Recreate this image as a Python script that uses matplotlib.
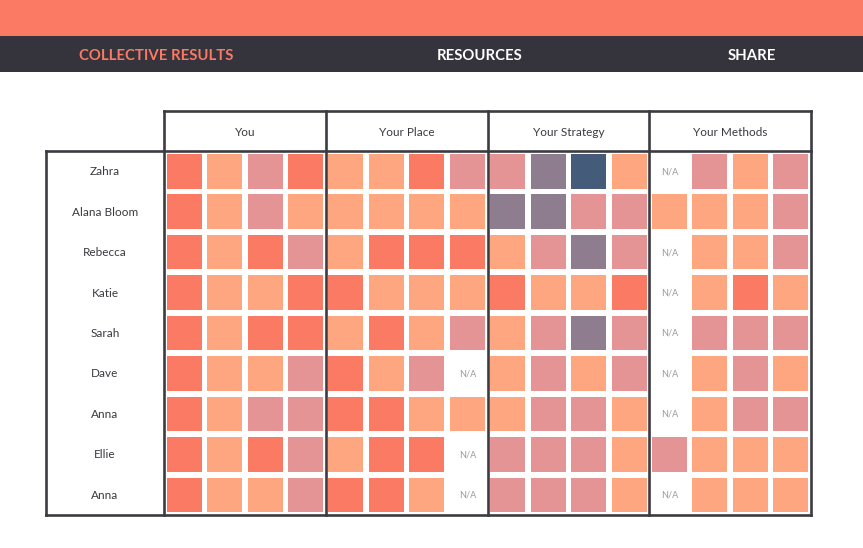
import matplotlib.pyplot as plt
import matplotlib.patches as mpatches

# ── data ─────────────────────────────────────────────────────────────────
NAV_ITEMS = ['COLLECTIVE RESULTS', 'RESOURCES', 'SHARE']
GROUPS = ['You', 'Your Place', 'Your Strategy', 'Your Methods']
NAMES = ['Zahra', 'Alana Bloom', 'Rebecca', 'Katie', 'Sarah',
         'Dave', 'Anna', 'Ellie', 'Anna']

# level per cell: 0 = N/A, 1..5 = answer category
YOU = [[1, 2, 3, 1], [1, 2, 3, 2], [1, 2, 1, 3], [1, 2, 2, 1], [1, 2, 1, 1],
       [1, 2, 2, 3], [1, 2, 3, 3], [1, 2, 1, 3], [1, 2, 2, 3]]
PLACE = [[2, 2, 1, 3], [2, 2, 2, 2], [2, 1, 1, 1], [1, 2, 2, 2], [2, 1, 2, 3],
         [1, 2, 3, 0], [1, 1, 2, 2], [2, 1, 1, 0], [1, 1, 2, 0]]
STRATEGY = [[3, 4, 5, 2], [4, 4, 3, 3], [2, 3, 4, 3], [1, 2, 2, 1], [2, 3, 4, 3],
            [2, 3, 2, 3], [2, 3, 3, 2], [3, 3, 3, 2], [3, 3, 3, 2]]
METHODS = [[0, 3, 2, 3], [2, 2, 2, 3], [0, 2, 2, 3], [0, 2, 1, 2], [0, 3, 3, 3],
           [0, 2, 3, 2], [0, 2, 3, 3], [3, 2, 2, 2], [0, 2, 2, 2]]
GROUP_DATA = [YOU, PLACE, STRATEGY, METHODS]

# ── style ────────────────────────────────────────────────────────────────
LEVEL_COLORS = {1: '#fa7a64', 2: '#fea67f', 3: '#e59496', 4: '#8d7d8e', 5: '#445c79'}
CORAL = '#fa7a64'
DARK = '#35343d'
LINE = '#3d3b42'
TEXT = '#3a3a40'
FONT = ['Lato', 'DejaVu Sans']

W, H = 863, 548
TABLE_L, GROUP_L, TABLE_R = 46, 164, 811
HEAD_T, BODY_T, BODY_B = 111, 151, 515
GROUP_W = (TABLE_R - GROUP_L) / len(GROUPS)
SLOT_W = GROUP_W / 4
ROW_H = (BODY_B - BODY_T) / len(NAMES)
CELL_W, CELL_H = 35, 34.5

plt.rcParams['font.family'] = FONT

fig = plt.figure(figsize=(W / 100, H / 100), dpi=100)
ax = fig.add_axes([0, 0, 1, 1])
ax.set_xlim(0, W)
ax.set_ylim(H, 0)
ax.axis('off')

# top bars
ax.add_patch(mpatches.Rectangle((0, 0), W, 36, facecolor=CORAL, lw=0))
ax.add_patch(mpatches.Rectangle((0, 36), W, 36, facecolor=DARK, lw=0))
for label, x in zip(NAV_ITEMS, [156, 480, 752]):
    ax.text(x, 56, label, ha='center', va='center', fontsize=10.7, fontweight='bold',
            color=CORAL if label == NAV_ITEMS[0] else 'white')

# cells
for g, rows in enumerate(GROUP_DATA):
    gx = GROUP_L + g * GROUP_W
    for r, vals in enumerate(rows):
        y0 = BODY_T + r * ROW_H
        for k, v in enumerate(vals):
            x0 = gx + k * SLOT_W
            if v == 0:
                ax.text(x0 + SLOT_W / 2, y0 + ROW_H / 2 + 0.5, 'N/A', ha='center', va='center',
                        fontsize=6.5, color='#9a9a9a')
                continue
            ax.add_patch(mpatches.Rectangle(
                (x0 + (SLOT_W - CELL_W) / 2, y0 + 3), CELL_W, CELL_H,
                facecolor=LEVEL_COLORS[v], lw=0, zorder=2))

# headers and row labels
for g, name in enumerate(GROUPS):
    ax.text(GROUP_L + (g + 0.5) * GROUP_W, (HEAD_T + BODY_T) / 2 + 1.5, name,
            ha='center', va='center', fontsize=8.5, color=TEXT)
for r, name in enumerate(NAMES):
    ax.text((TABLE_L + GROUP_L) / 2, BODY_T + (r + 0.5) * ROW_H + 0.5, name,
            ha='center', va='center', fontsize=8.5, color=TEXT)

# table lines
lw = 1.9
ax.plot([GROUP_L, TABLE_R], [HEAD_T, HEAD_T], color=LINE, lw=lw, zorder=3)
ax.plot([TABLE_L, TABLE_R], [BODY_T, BODY_T], color=LINE, lw=lw, zorder=3)
ax.plot([TABLE_L, TABLE_R], [BODY_B, BODY_B], color=LINE, lw=lw, zorder=3)
ax.plot([TABLE_L, TABLE_L], [BODY_T, BODY_B], color=LINE, lw=lw, zorder=3)
for g in range(len(GROUPS) + 1):
    x = GROUP_L + g * GROUP_W
    ax.plot([x, x], [HEAD_T, BODY_B], color=LINE, lw=lw, zorder=3)

fig.savefig('out.png', dpi=100, facecolor='white')
